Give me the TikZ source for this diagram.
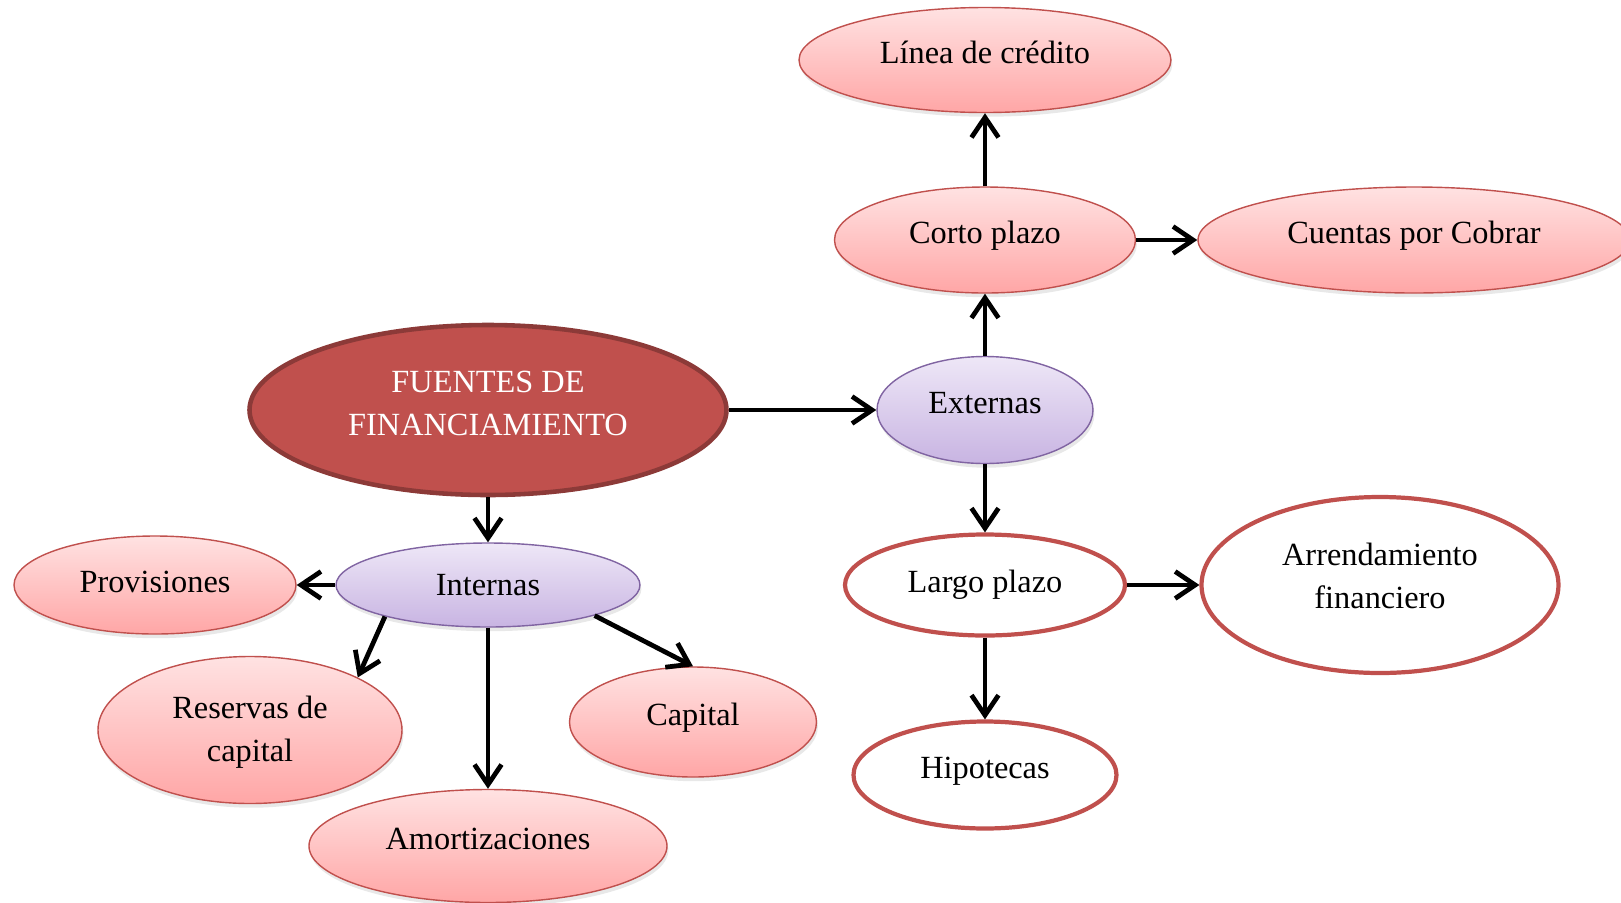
\documentclass[tikz,border=0pt]{standalone}
\usepackage{fontspec}
\setmainfont{Liberation Serif}
\usetikzlibrary{shapes.geometric,arrows.meta,shadows}
\definecolor{rojo}{HTML}{C0504D}
\definecolor{rojoosc}{HTML}{8C3A38}
\definecolor{rosaA}{HTML}{FFE2E2}
\definecolor{rosaB}{HTML}{FFA6A6}
\definecolor{lilaA}{HTML}{EEE7F7}
\definecolor{lilaB}{HTML}{C8B4E2}
\definecolor{lila}{HTML}{8064A2}
\begin{document}
\begin{tikzpicture}[auto, node distance=3cm,
		font=\fontsize{9.2}{12}\selectfont,
		elip/.style={ellipse, inner sep=0pt, align=center, text height=0.22cm, text depth=0.16cm},
		bajo/.style={text height=0.27cm, text depth=0.13cm},
		dos/.style={text height=0.70cm, text depth=0.24cm},
		rosa/.style={elip, draw=rojo, line width=0.4pt, top color=rosaA, bottom color=rosaB,
			drop shadow={opacity=0.18, shadow xshift=0.4pt, shadow yshift=-1.2pt}},
		lilac/.style={elip, draw=lila, line width=0.4pt, top color=lilaA, bottom color=lilaB,
			drop shadow={opacity=0.18, shadow xshift=0.4pt, shadow yshift=-1.2pt}},
		blanco/.style={elip, draw=rojo, line width=1.2pt, fill=white},
		flecha/.style={line width=1.35pt, -{Straight Barb[length=2mm, width=2.7mm]}}]
		\useasboundingbox (0,0) rectangle (16.21,-9.03);
		\node(F)[elip, dos, text height=0.72cm, text depth=0.22cm, draw=rojoosc, line width=1.3pt, fill=rojo, text=white, minimum width=4.77cm, minimum height=1.7cm] at (4.88,-4.10){FUENTES DE\\FINANCIAMIENTO};
		\node(Ext)[right of=F, node distance=4.97cm, lilac, minimum width=2.16cm, minimum height=1.07cm]{Externas};
		\node(Corto)[above of=Ext, node distance=1.70cm, rosa, minimum width=3.01cm, minimum height=1.06cm]{Corto plazo};
		\node(Linea)[above of=Corto, node distance=1.80cm, rosa, minimum width=3.72cm, minimum height=1.05cm]{Línea de crédito};
		\node(Cuentas)[right of=Corto, node distance=4.29cm, rosa, minimum width=4.32cm, minimum height=1.06cm]{Cuentas por Cobrar};
		\node(Largo)[below of=Ext, node distance=1.75cm, blanco, bajo, minimum width=2.80cm, minimum height=1.01cm]{Largo plazo};
		\node(Arrend)[right of=Largo, node distance=3.95cm, blanco, dos, minimum width=3.57cm, minimum height=1.76cm]{Arrendamiento\\financiero};
		\node(Hipo)[below of=Largo, node distance=1.90cm, blanco, minimum width=2.63cm, minimum height=1.07cm]{Hipotecas};
		\node(Int)[below of=F, node distance=1.75cm, lilac, text height=0.30cm, text depth=0.10cm, minimum width=3.04cm, minimum height=0.84cm]{Internas};
		\node(Prov)[left of=Int, node distance=3.33cm, rosa, bajo, minimum width=2.82cm, minimum height=0.98cm]{Provisiones};
		\node(Res)[below of=Int, node distance=1.45cm, xshift=-2.38cm, rosa, dos, text height=0.80cm, text depth=0.18cm, minimum width=3.04cm, minimum height=1.47cm]{Reservas de\\capital};
		\node(Amort)[below of=Int, node distance=2.61cm, rosa, minimum width=3.58cm, minimum height=1.13cm]{Amortizaciones};
		\node(Cap)[below of=Int, node distance=1.37cm, xshift=2.05cm, rosa, minimum width=2.47cm, minimum height=1.10cm]{Capital};
		\draw[flecha](F) to (Ext);
		\draw[flecha](F) to (Int);
		\draw[flecha](Ext) to (Corto);
		\draw[flecha](Corto) to (Linea);
		\draw[flecha](Corto) to (Cuentas);
		\draw[flecha](Ext) to (Largo);
		\draw[flecha](Largo) to (Arrend);
		\draw[flecha](Largo) to (Hipo);
		\draw[flecha](Int) to (Prov);
		\draw[flecha](Int.197) to (Res.26);
		\draw[flecha](Int) to (Amort);
		\draw[flecha](Int.344) to (Cap.north);
	\end{tikzpicture}
\end{document}
